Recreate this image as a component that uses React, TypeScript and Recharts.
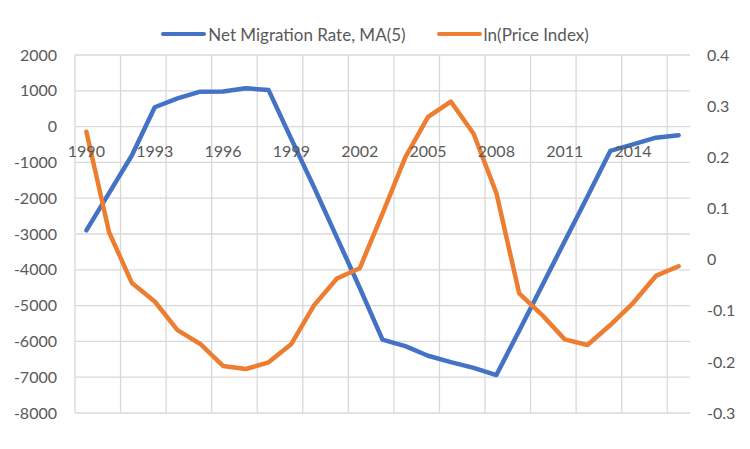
import React from "react";
import { ComposedChart, Line, XAxis, YAxis, CartesianGrid } from "recharts";

const years = [
  "1990", "1991", "1992", "1993", "1994", "1995", "1996", "1997", "1998", "1999",
  "2000", "2001", "2002", "2003", "2004", "2005", "2006", "2007", "2008", "2009",
  "2010", "2011", "2012", "2013", "2014", "2015", "2016",
];

const netMigration = [
  -2900, -1850, -800, 540, 790, 975, 980, 1070, 1020, -350,
  -1700, -3100, -4500, -5950, -6130, -6400, -6580, -6740, -6940, -5700,
  -4450, -3200, -1950, -680, -495, -310, -240,
];

const lnPrice = [
  0.25, 0.053, -0.046, -0.082, -0.138, -0.165, -0.208, -0.214, -0.201, -0.165,
  -0.089, -0.037, -0.017, 0.09, 0.2, 0.279, 0.309, 0.246, 0.13, -0.066,
  -0.108, -0.156, -0.167, -0.128, -0.085, -0.032, -0.013,
];

const leftTicks = [-8000, -7000, -6000, -5000, -4000, -3000, -2000, -1000, 0, 1000, 2000];
const rightTicks = [-0.3, -0.2, -0.1, 0, 0.1, 0.2, 0.3, 0.4];
const gridBoundaries = [0, 2, 4, 6, 8, 10, 12, 14, 16, 18, 20, 22, 24, 26];

const seriesNames = ["Net Migration Rate, MA(5)", "ln(Price Index)"];
const seriesColors = ["#4472C4", "#ED7D31"];

const data = years.map((y, i) => ({ year: y, mig: netMigration[i], price: lnPrice[i] }));

const W = 750;
const H = 449;
const X_AXIS_H = 20;
const MARGIN = { top: 55, right: 0, bottom: 36 - X_AXIS_H, left: 0 };
const LEFT_W = 75;
const RIGHT_W = 60;
const PLOT_H = H - MARGIN.top - MARGIN.bottom - X_AXIS_H;
const LEFT_MIN = -8000;
const LEFT_MAX = 2000;
const ZERO_Y = MARGIN.top + (PLOT_H * (LEFT_MAX - 0)) / (LEFT_MAX - LEFT_MIN);

const FONT = "Lato, 'Open Sans', sans-serif";
const TEXT = "#595959";

const XTick = (props: any) => {
  const { x, payload } = props;
  return (
    <text x={x} y={ZERO_Y + 30} textAnchor="middle" fill={TEXT} fontSize={16} fontFamily={FONT}>
      {payload.value}
    </text>
  );
};

const LegendBox = () => (
  <div
    style={{
      position: "absolute",
      left: 0,
      top: 22,
      width: W,
      height: 24,
      display: "flex",
      justifyContent: "center",
      alignItems: "center",
      fontFamily: FONT,
      fontSize: 17,
      color: TEXT,
      whiteSpace: "nowrap",
    }}
  >
    {seriesNames.map((n, i) => (
      <div key={n} style={{ display: "flex", alignItems: "center", marginLeft: i === 0 ? 0 : 31 }}>
        <div style={{ width: 45, height: 4.5, background: seriesColors[i], borderRadius: 2, marginRight: 2 }} />
        <span>{n}</span>
      </div>
    ))}
  </div>
);

export default function App() {
  return (
    <div style={{ position: "absolute", left: 0, top: 0, width: W, height: H, background: "#fff" }}>
      <ComposedChart width={W} height={H} data={data} margin={MARGIN}>
        <CartesianGrid
          stroke="#d9d9d9"
          strokeWidth={1.3}
          yAxisId="left"
          verticalCoordinatesGenerator={({ offset }: any) =>
            gridBoundaries.map((k) => offset.left + (k * offset.width) / years.length)
          }
        />
        <XAxis
          dataKey="year"
          scale="band"
          height={X_AXIS_H}
          interval={2}
          axisLine={false}
          tickLine={false}
          tick={<XTick />}
        />
        <YAxis
          yAxisId="left"
          orientation="left"
          width={LEFT_W}
          domain={[LEFT_MIN, LEFT_MAX]}
          ticks={leftTicks}
          interval={0}
          axisLine={false}
          tickLine={false}
          tickMargin={12}
          tick={{ fill: TEXT, fontSize: 16, fontFamily: FONT }}
        />
        <YAxis
          yAxisId="right"
          orientation="right"
          width={RIGHT_W}
          domain={[-0.3, 0.4]}
          ticks={rightTicks}
          interval={0}
          axisLine={false}
          tickLine={false}
          tickMargin={11}
          tickFormatter={(v: number) => String(Math.round(v * 10) / 10)}
          tick={{ fill: TEXT, fontSize: 16, fontFamily: FONT, textAnchor: "start" }}
        />
        <Line
          yAxisId="left"
          dataKey="mig"
          stroke={seriesColors[0]}
          strokeWidth={4.5}
          dot={false}
          strokeLinejoin="round"
          strokeLinecap="round"
          isAnimationActive={false}
        />
        <Line
          yAxisId="right"
          dataKey="price"
          stroke={seriesColors[1]}
          strokeWidth={4.5}
          dot={false}
          strokeLinejoin="round"
          strokeLinecap="round"
          isAnimationActive={false}
        />
      </ComposedChart>
      <LegendBox />
    </div>
  );
}
